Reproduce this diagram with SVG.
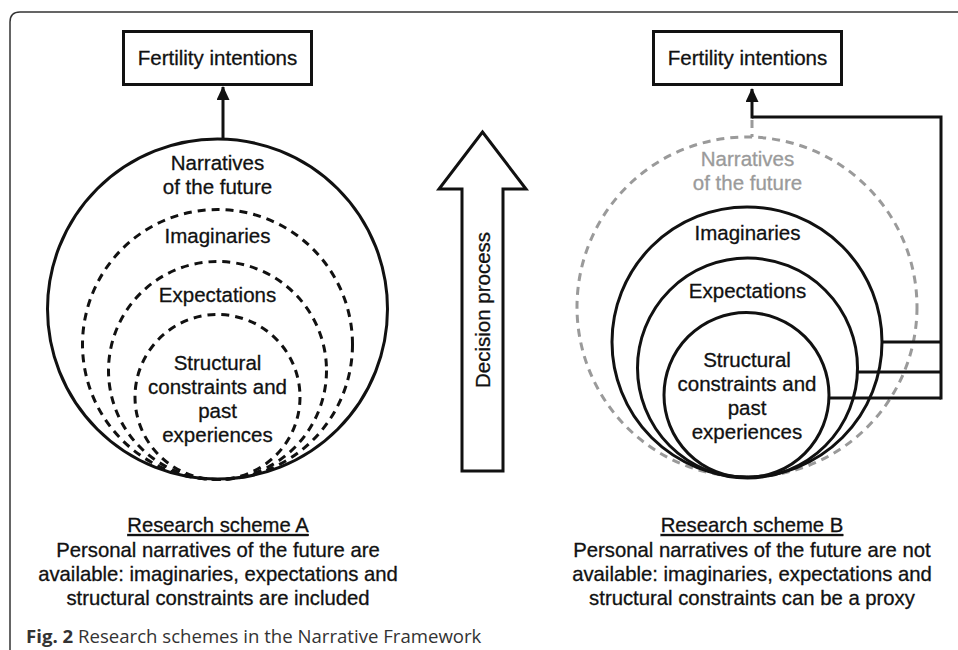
<svg xmlns="http://www.w3.org/2000/svg" width="958" height="650" viewBox="0 0 958 650">
<style>
  text { font-family: "Liberation Sans", Arial, sans-serif; fill: #111; }
  .lbl { font-size: 20.5px; text-anchor: middle; stroke: #111; stroke-width: 0.3px; }
  .cap { font-size: 20.3px; text-anchor: middle; stroke: #111; stroke-width: 0.3px; }
  .gray { fill: #9a9a9a; stroke: #9a9a9a; }
  .box { fill: #fff; stroke: #111; stroke-width: 3; }
  .solid { fill: none; stroke: #111; stroke-width: 3; }
  .dash { fill: none; stroke: #111; stroke-width: 3; stroke-dasharray: 8 6; }
  .gdash { fill: none; stroke: #9a9a9a; stroke-width: 3; stroke-dasharray: 8 6; }
  .line { fill: none; stroke: #111; stroke-width: 3; }
  .fig { font-family: "Open Sans", "Liberation Sans", sans-serif; font-size: 18.6px; fill: #333; }
</style>
<defs>
  <marker id="ah" viewBox="0 0 14 13" refX="13" refY="6.5" markerWidth="14" markerHeight="13" markerUnits="userSpaceOnUse" orient="auto">
    <polygon points="0,0 14,6.5 0,13" fill="#111"/>
  </marker>
</defs>
<rect width="958" height="650" fill="#fff"/>
<path d="M10,650 L10,22 Q10,12 20,12 L958,12" fill="none" stroke="#333" stroke-width="1.5"/>

<g id="schemeA">
  <g id="A-fertility">
    <rect class="box" x="123.5" y="31.5" width="188" height="53"/>
    <text class="lbl" x="217.5" y="65">Fertility intentions</text>
  </g>
  <g id="A-narratives">
    <circle class="solid" cx="217.5" cy="309" r="170"/>
    <text class="lbl" x="217.5" y="170">Narratives</text>
    <text class="lbl" x="217.5" y="194">of the future</text>
  </g>
  <g id="A-imaginaries">
    <circle class="dash" cx="217.5" cy="344.5" r="135"/>
    <text class="lbl" x="217.5" y="243">Imaginaries</text>
  </g>
  <g id="A-expectations">
    <circle class="dash" cx="217.5" cy="370.5" r="109"/>
    <text class="lbl" x="217.5" y="302">Expectations</text>
  </g>
  <g id="A-structural">
    <circle class="dash" cx="217.5" cy="397" r="82.5"/>
    <text class="lbl" x="217.5" y="370">Structural</text>
    <text class="lbl" x="217.5" y="394">constraints and</text>
    <text class="lbl" x="217.5" y="418">past</text>
    <text class="lbl" x="217.5" y="442">experiences</text>
  </g>
  <g id="A-caption">
    <text class="cap" x="218" y="532" text-decoration="underline">Research scheme A</text>
    <text class="cap" x="218" y="557">Personal narratives of the future are</text>
    <text class="cap" x="218" y="581">available: imaginaries, expectations and</text>
    <text class="cap" x="218" y="605">structural constraints are included</text>
  </g>
</g>

<g id="decision">
  <polygon points="482.5,132 526,189 503,189 503,471 462,471 462,189 439,189" fill="#fff" stroke="#111" stroke-width="3" stroke-linejoin="miter"/>
  <text class="lbl" transform="translate(490,310) rotate(-90)" x="0" y="0">Decision process</text>
</g>

<g id="schemeB">
  <g id="B-fertility">
    <rect class="box" x="653.5" y="31.5" width="188" height="53"/>
    <text class="lbl" x="747.5" y="65">Fertility intentions</text>
  </g>
  <g id="B-narratives">
    <circle class="gdash" cx="747" cy="307" r="170"/>
    <text class="lbl gray" x="747.5" y="166">Narratives</text>
    <text class="lbl gray" x="747.5" y="190">of the future</text>
  </g>
  <g id="B-imaginaries">
    <circle class="solid" cx="747" cy="342" r="135"/>
    <text class="lbl" x="747.5" y="240">Imaginaries</text>
  </g>
  <g id="B-expectations">
    <circle class="solid" cx="747.5" cy="368" r="110"/>
    <text class="lbl" x="747.5" y="298">Expectations</text>
  </g>
  <g id="B-structural">
    <circle class="solid" cx="746.5" cy="395" r="82.5"/>
    <text class="lbl" x="747" y="367">Structural</text>
    <text class="lbl" x="747" y="391">constraints and</text>
    <text class="lbl" x="747" y="415">past</text>
    <text class="lbl" x="747" y="439">experiences</text>
  </g>
  <g id="B-caption">
    <text class="cap" x="752" y="532" text-decoration="underline">Research scheme B</text>
    <text class="cap" x="752" y="557">Personal narratives of the future are not</text>
    <text class="cap" x="752" y="581">available: imaginaries, expectations and</text>
    <text class="cap" x="752" y="605">structural constraints can be a proxy</text>
  </g>
</g>

<g id="connectors">
  <line class="line" x1="223" y1="139" x2="223" y2="87" marker-end="url(#ah)"/>
  <line class="gdash" x1="752" y1="120" x2="752" y2="137" stroke-dasharray="7 4"/>
  <polyline class="line" points="752,117 941,117 941,399.5"/>
  <line class="line" x1="752" y1="118.5" x2="752" y2="89" marker-end="url(#ah)"/>
  <line class="line" x1="881.5" y1="342" x2="941" y2="342"/>
  <line class="line" x1="857" y1="372" x2="941" y2="372"/>
  <line class="line" x1="828.5" y1="398" x2="941" y2="398"/>
</g>

<text class="fig" x="26" y="643"><tspan font-weight="bold">Fig. 2</tspan> Research schemes in the Narrative Framework</text>
</svg>
